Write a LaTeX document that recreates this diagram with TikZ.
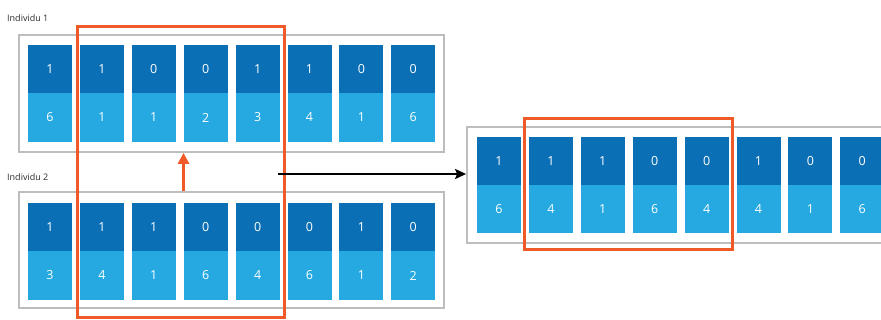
\documentclass[tikz,border=0pt]{standalone}
\usepackage{fontspec}
\setmainfont{Open Sans}
\usetikzlibrary{arrows.meta}
\definecolor{dkblue}{HTML}{0B6FB5}
\definecolor{ltblue}{HTML}{25A9E0}
\definecolor{redorange}{HTML}{F05A28}
\definecolor{boxgray}{HTML}{BDBDBD}
\definecolor{labelgray}{HTML}{2A2A2A}
\tikzset{
  gbox/.style={draw=boxgray, line width=1.8pt, fill=white, inner sep=0pt},
  topcell/.style={fill=dkblue, minimum width=44pt, minimum height=48.5pt, inner sep=0pt, text=white, font=\fontsize{12.5}{12.5}\selectfont},
  botcell/.style={fill=ltblue, minimum width=44pt, minimum height=48.5pt, inner sep=0pt, text=white, font=\fontsize{12.5}{12.5}\selectfont},
  lbl/.style={text=labelgray, font=\fontsize{9}{9}\selectfont, inner sep=0pt, anchor=west},
  redframe/.style={draw=redorange, line width=3pt},
  orangearrow/.style={draw=redorange, line width=2.8pt, -{Triangle[length=11pt, width=11pt]}},
  blackarrow/.style={draw=black, line width=2.5pt, -{Stealth[length=11pt, width=10pt, inset=2pt]}}
}
\begin{document}
\begin{tikzpicture}[x=1pt,y=-1pt]
\useasboundingbox (0,0) rectangle (881,320);
% labels
\node[lbl] (L1) at (7,18) {Individu 1};
\node[lbl] (L2) at (7,177) {Individu 2};
% outer boxes
\node[gbox, minimum width=425pt, minimum height=117pt] (A) at (231.5,93.5) {};
\node[gbox, minimum width=425pt, minimum height=116pt] (B) at (231.5,250) {};
\node[gbox, minimum width=430pt, minimum height=116pt] (R) at (682,185) {};
% individual 1
\foreach \a/\b [count=\i] in {1/6,1/1,0/1,0/2,1/3,1/4,0/1,0/6} {
  \node[topcell] (At\i) at ({50+(\i-1)*51.9}, 69) {\a};
  \node[botcell] (Ab\i) at ({50+(\i-1)*51.9}, 117.5) {\b};
}
% individual 2
\foreach \a/\b [count=\i] in {1/3,1/4,1/1,0/6,0/4,0/6,1/1,0/2} {
  \node[topcell] (Bt\i) at ({50+(\i-1)*51.9}, 227) {\a};
  \node[botcell] (Bb\i) at ({50+(\i-1)*51.9}, 275.5) {\b};
}
% result
\foreach \a/\b [count=\i] in {1/6,1/4,1/1,0/6,0/4,1/4,0/1,0/6} {
  \node[topcell, minimum height=48pt] (Rt\i) at ({499+(\i-1)*51.9}, 161) {\a};
  \node[botcell, minimum height=48pt] (Rb\i) at ({499+(\i-1)*51.9}, 209) {\b};
}
% red frames
\draw[redframe] (77,27) rectangle (284,318);
\draw[redframe] (524,119) rectangle (732,250);
% arrows
\draw[orangearrow] (Bt4.west |- B.north) -- (At4.west |- A.south);
\coordinate (S) at (278,174);
\draw[blackarrow] (S) -- (R.west |- S);
\end{tikzpicture}
\end{document}
